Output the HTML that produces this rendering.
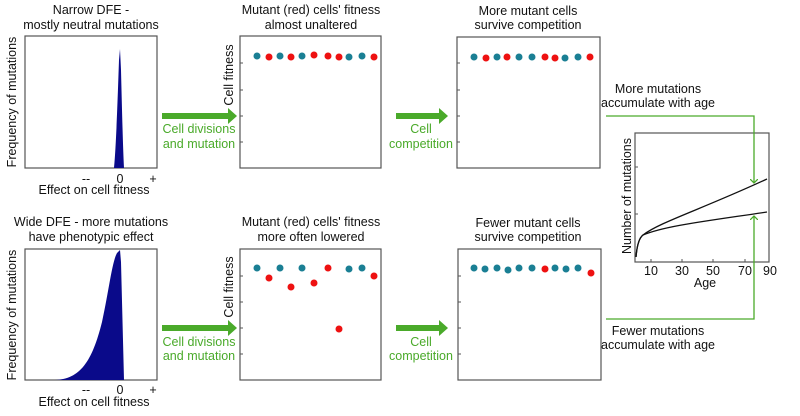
<!DOCTYPE html>
<html><head><meta charset="utf-8"><style>
html,body{margin:0;padding:0;background:#fff;}
svg{display:block;font-family:"Liberation Sans",Arial,sans-serif;}
</style></head><body>
<svg width="800" height="416" viewBox="0 0 800 416" xmlns="http://www.w3.org/2000/svg">
<defs>
<marker id="ga" markerWidth="8" markerHeight="8" refX="4" refY="4" orient="auto" markerUnits="userSpaceOnUse">
<path d="M0,0 L4,4 L0,8" fill="none" stroke="#4aaa2a" stroke-width="1.3"/>
</marker>
</defs>
<g font-size="12.5" fill="#111" text-anchor="middle">
<text x="91" y="14">Narrow DFE -</text>
<text x="91" y="29">mostly neutral mutations</text>
<text x="311" y="14">Mutant (red) cells' fitness</text>
<text x="311" y="29">almost unaltered</text>
<text x="528" y="15">More mutant cells</text>
<text x="528" y="29">survive competition</text>
<text x="91" y="226">Wide DFE - more mutations</text>
<text x="91" y="241">have phenotypic effect</text>
<text x="311" y="226">Mutant (red) cells' fitness</text>
<text x="311" y="241">more often lowered</text>
<text x="528" y="227">Fewer mutant cells</text>
<text x="528" y="241">survive competition</text>
<text x="658" y="93">More mutations</text>
<text x="658" y="107">accumulate with age</text>
<text x="658" y="335">Fewer mutations</text>
<text x="658" y="349">accumulate with age</text>
<text x="94" y="194">Effect on cell fitness</text>
<text x="94" y="406">Effect on cell fitness</text>
<text x="86" y="183">--</text><text x="120" y="183">0</text><text x="153" y="183">+</text>
<text x="86" y="394">--</text><text x="120" y="394">0</text><text x="153" y="394">+</text>
<text x="651" y="275">10</text><text x="682" y="275">30</text><text x="713" y="275">50</text><text x="745" y="275">70</text><text x="770" y="275">90</text>
<text x="705" y="287">Age</text>
<text transform="translate(16,102) rotate(-90)">Frequency of mutations</text>
<text transform="translate(16,315) rotate(-90)">Frequency of mutations</text>
<text transform="translate(233,75) rotate(-90)">Cell fitness</text>
<text transform="translate(233,287) rotate(-90)">Cell fitness</text>
<text transform="translate(631,196) rotate(-90)">Number of mutations</text>
</g>
<g font-size="12.5" fill="#4aaa2a" text-anchor="middle">
<text x="199" y="133">Cell divisions</text><text x="199" y="148">and mutation</text>
<text x="199" y="346">Cell divisions</text><text x="199" y="360">and mutation</text>
<text x="421" y="133">Cell</text><text x="421" y="148">competition</text>
<text x="421" y="346">Cell</text><text x="421" y="360">competition</text>
</g>
<g fill="none" stroke="#555" stroke-width="1.2">
<rect x="25" y="36" width="132" height="132"/>
<rect x="240" y="36" width="141" height="132"/>
<rect x="457" y="37" width="143" height="131"/>
<rect x="25" y="249" width="132" height="131"/>
<rect x="240" y="249" width="141" height="131"/>
<rect x="458" y="249" width="143" height="131"/>
<rect x="635" y="133" width="134" height="129"/>
</g>
<g stroke="#555" stroke-width="1">
<path d="M240,63h3M240,90h3M240,116h3M240,142h3M457,63h3M457,90h3M457,116h3M457,142h3"/>
<path d="M240,276h3M240,302h3M240,328h3M240,354h3M458,276h3M458,302h3M458,328h3M458,354h3"/>
<path d="M635,167h3M635,214h3M651,262v-3M682,262v-3M713,262v-3M745,262v-3"/>
</g>
<path d="M114,168 C116,150 118,90 119,60 L120,49 L121,70 C122,110 123,150 124,168Z" fill="#0a0a8a"/>
<path d="M55,380 C80,379 92,362 102,322 C109,290 112,262 117,253 L120,250 L121,262 L124,380Z" fill="#0a0a8a"/>
<g fill="none" stroke="#111" stroke-width="1.3">
<path d="M636,257 C637,245 639,238 643,235 C660,222 700,210 767,179"/>
<path d="M636,257 C637,245 639,238 643,235 C665,226 700,222 767,212"/>
</g>
<g fill="#4aaa2a">
<path d="M162,113h66v-5l9,8l-9,8v-5h-66z"/>
<path d="M162,325h66v-5l9,8l-9,8v-5h-66z"/>
<path d="M396,113h43v-5l9,8l-9,8v-5h-43z"/>
<path d="M396,325h43v-5l9,8l-9,8v-5h-43z"/>
</g>
<g fill="none" stroke="#4aaa2a" stroke-width="1.3">
<path d="M606,116 H754 V183" marker-end="url(#ga)"/>
<path d="M606,319 H754 V216" marker-end="url(#ga)"/>
</g>
<g>
<circle cx="257" cy="56" r="3.5" fill="#1a7f94"/><circle cx="269" cy="57" r="3.5" fill="#ee1111"/>
<circle cx="280" cy="56" r="3.5" fill="#1a7f94"/><circle cx="291" cy="57" r="3.5" fill="#ee1111"/>
<circle cx="302" cy="56" r="3.5" fill="#1a7f94"/><circle cx="314" cy="55" r="3.5" fill="#ee1111"/>
<circle cx="328" cy="56" r="3.5" fill="#ee1111"/><circle cx="339" cy="57" r="3.5" fill="#ee1111"/>
<circle cx="349" cy="57" r="3.5" fill="#1a7f94"/><circle cx="362" cy="56" r="3.5" fill="#1a7f94"/>
<circle cx="374" cy="57" r="3.5" fill="#ee1111"/>
<circle cx="474" cy="57" r="3.5" fill="#1a7f94"/><circle cx="486" cy="58" r="3.5" fill="#ee1111"/>
<circle cx="497" cy="57" r="3.5" fill="#1a7f94"/><circle cx="507" cy="57" r="3.5" fill="#ee1111"/>
<circle cx="519" cy="57" r="3.5" fill="#1a7f94"/><circle cx="532" cy="57" r="3.5" fill="#1a7f94"/>
<circle cx="545" cy="57" r="3.5" fill="#ee1111"/><circle cx="555" cy="58" r="3.5" fill="#ee1111"/>
<circle cx="565" cy="58" r="3.5" fill="#1a7f94"/><circle cx="578" cy="57" r="3.5" fill="#1a7f94"/>
<circle cx="590" cy="57" r="3.5" fill="#ee1111"/>
<circle cx="257" cy="268" r="3.5" fill="#1a7f94"/><circle cx="269" cy="278" r="3.5" fill="#ee1111"/>
<circle cx="280" cy="268" r="3.5" fill="#1a7f94"/><circle cx="291" cy="287" r="3.5" fill="#ee1111"/>
<circle cx="302" cy="268" r="3.5" fill="#1a7f94"/><circle cx="314" cy="283" r="3.5" fill="#ee1111"/>
<circle cx="328" cy="268" r="3.5" fill="#ee1111"/><circle cx="339" cy="329" r="3.5" fill="#ee1111"/>
<circle cx="349" cy="269" r="3.5" fill="#1a7f94"/><circle cx="362" cy="268" r="3.5" fill="#1a7f94"/>
<circle cx="374" cy="276" r="3.5" fill="#ee1111"/>
<circle cx="474" cy="268" r="3.5" fill="#1a7f94"/><circle cx="485" cy="269" r="3.5" fill="#1a7f94"/>
<circle cx="497" cy="268" r="3.5" fill="#1a7f94"/><circle cx="508" cy="270" r="3.5" fill="#1a7f94"/>
<circle cx="519" cy="268" r="3.5" fill="#1a7f94"/><circle cx="532" cy="268" r="3.5" fill="#1a7f94"/>
<circle cx="545" cy="269" r="3.5" fill="#ee1111"/><circle cx="555" cy="268" r="3.5" fill="#1a7f94"/>
<circle cx="566" cy="269" r="3.5" fill="#1a7f94"/><circle cx="578" cy="268" r="3.5" fill="#1a7f94"/>
<circle cx="591" cy="273" r="3.5" fill="#ee1111"/>
</g>
</svg>
</body></html>
